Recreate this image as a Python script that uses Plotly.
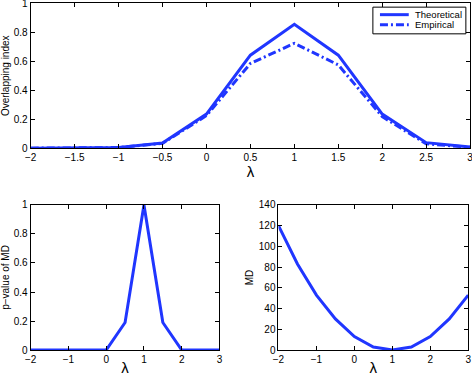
import plotly.graph_objects as go

# lambda grid shared by all three panels
lam = [-2, -1.5, -1, -0.5, 0, 0.5, 1, 1.5, 2, 2.5, 3]

overlap_theoretical = [0.0, 0.002, 0.005, 0.036, 0.235, 0.642, 0.856, 0.642, 0.235, 0.038, 0.008]
overlap_empirical = [0.0, 0.002, 0.004, 0.033, 0.225, 0.585, 0.724, 0.575, 0.218, 0.030, 0.006]
pvalue_md = [0, 0, 0, 0, 0, 0.19, 1.0, 0.19, 0, 0, 0]
md = [120, 83, 53, 30, 13, 3, 0, 3, 13, 30, 53]

series_names = ["Theoretical", "Empirical"]

BLUE = "#2036ff"
FONT = "Liberation Sans, Arial, sans-serif"
DASHDOT = "8px,3px,2px,3px"

fig = go.Figure()
fig.add_trace(go.Scatter(x=lam, y=overlap_theoretical, mode="lines", name=series_names[0],
                         line=dict(color=BLUE, width=3), xaxis="x", yaxis="y"))
fig.add_trace(go.Scatter(x=lam, y=overlap_empirical, mode="lines", name=series_names[1],
                         line=dict(color=BLUE, width=3, dash=DASHDOT), xaxis="x", yaxis="y"))
fig.add_trace(go.Scatter(x=lam, y=pvalue_md, mode="lines",
                         line=dict(color=BLUE, width=3), xaxis="x2", yaxis="y2"))
fig.add_trace(go.Scatter(x=lam, y=md, mode="lines",
                         line=dict(color=BLUE, width=3), xaxis="x3", yaxis="y3"))

ax = dict(showline=True, linecolor="black", linewidth=1, mirror="ticks", ticks="inside",
          ticklen=4, tickcolor="black", showgrid=False, zeroline=False, automargin=False,
          ticklabeloverflow="allow", tickfont=dict(size=10, color="black", family=FONT))
lam_title = dict(text="λ", font=dict(size=15, color="black", family=FONT), standoff=1)
ytitle_font = dict(size=10, color="black", family=FONT)

fig.update_layout(
    width=472, height=376,
    margin=dict(l=0, r=0, t=0, b=0),
    plot_bgcolor="white", paper_bgcolor="white",
    font=dict(family=FONT, color="black"),
    showlegend=False,
    xaxis=dict(ax, domain=[0.065, 0.996], range=[-2, 3], tickvals=lam, anchor="y", title=lam_title),
    yaxis=dict(ax, domain=[0.606, 0.991], range=[0, 1], tickvals=[0, 0.2, 0.4, 0.6, 0.8, 1],
               anchor="x", title=dict(text="Overlapping index", font=ytitle_font)),
    xaxis2=dict(ax, domain=[0.065, 0.465], range=[-2, 3], tickvals=[-2, -1, 0, 1, 2, 3],
                anchor="y2", title=lam_title),
    yaxis2=dict(ax, domain=[0.069, 0.455], range=[0, 1], tickvals=[0, 0.2, 0.4, 0.6, 0.8, 1],
                anchor="x2", title=dict(text="p−value of MD", font=ytitle_font)),
    xaxis3=dict(ax, domain=[0.590, 0.992], range=[-2, 3], tickvals=[-2, -1, 0, 1, 2, 3],
                anchor="y3", title=lam_title),
    yaxis3=dict(ax, domain=[0.069, 0.455], range=[0, 140], dtick=20, anchor="x3",
                title=dict(text="MD", font=ytitle_font, standoff=3)),
)

# compact legend box drawn in paper coordinates (plotly's own legend rows are too tall)
fig.add_shape(type="rect", xref="paper", yref="paper", x0=0.790, x1=0.987, y0=0.910, y1=0.981,
              line=dict(color="black", width=1), fillcolor="white", layer="above")
for i, (name, dash) in enumerate(zip(series_names, ["solid", DASHDOT])):
    yy = 0.961 - i * 0.027
    fig.add_shape(type="line", xref="paper", yref="paper", x0=0.805, x1=0.866, y0=yy, y1=yy,
                  line=dict(color=BLUE, width=3, dash=dash), layer="above")
    fig.add_annotation(text=name, xref="paper", yref="paper", x=0.874, y=yy, xanchor="left",
                       yanchor="middle", showarrow=False, font=dict(size=9.5, family=FONT))

# drop the browser's default page margin so the figure sits at the window's corner
fig.write_html("out.html", config={"displayModeBar": False},
               post_script="document.body.style.margin='0';document.body.style.overflow='hidden';")
